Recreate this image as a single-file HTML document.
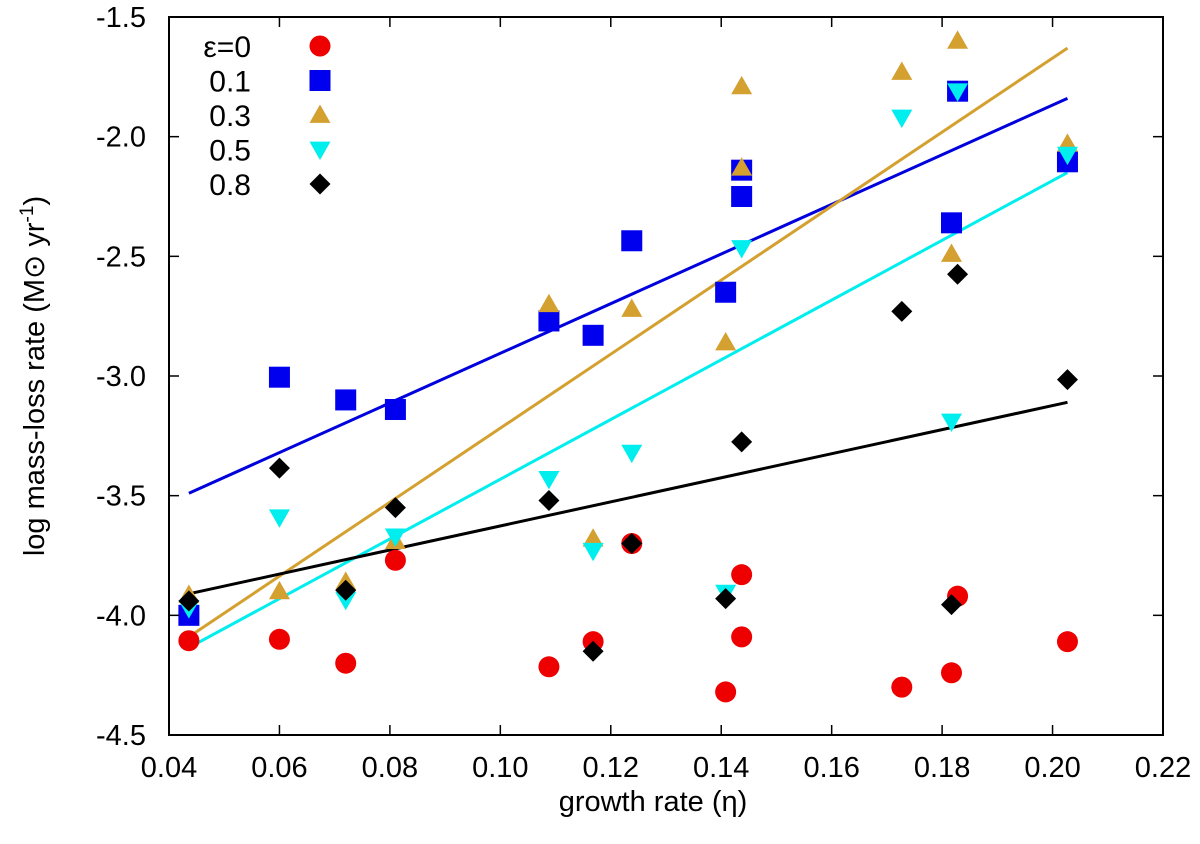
<!DOCTYPE html>
<html><head><meta charset="utf-8"><style>
body{margin:0;background:#fff;}
svg{display:block;font-family:"Liberation Sans",sans-serif;}
</style></head><body>
<svg id="chart" width="1200" height="844" xmlns="http://www.w3.org/2000/svg"></svg>
<script>
const etaValues=[0.0436,0.060,0.072,0.081,0.1088,0.1168,0.1238,0.1408,0.1437,0.1437,0.1727,0.1817,0.1828,0.2027];
const eps0X=[0.0436,0.060,0.072,0.081,0.1088,0.1168,0.1238,0.1437,0.1437,0.1408,0.1727,0.1817,0.1828,0.2027];
const eps0Y=[-4.106,-4.10,-4.20,-3.77,-4.215,-4.11,-3.70,-3.83,-4.09,-4.32,-4.30,-4.24,-3.92,-4.11];
const eps01X=[0.0436,0.060,0.072,0.081,0.1088,0.1168,0.1238,0.1408,0.1437,0.1437,0.1817,0.1828,0.2027];
const eps01Y=[-4.00,-3.005,-3.10,-3.14,-2.77,-2.83,-2.435,-2.65,-2.14,-2.25,-2.36,-1.81,-2.105];
const eps03X=[0.0436,0.060,0.072,0.081,0.1088,0.1168,0.1238,0.1408,0.1437,0.1437,0.1727,0.1817,0.1828,0.2027];
const eps03Y=[-3.915,-3.90,-3.86,-3.69,-2.70,-3.68,-2.72,-2.86,-2.13,-1.79,-1.73,-2.49,-1.60,-2.03];
const eps05X=[0.0436,0.060,0.072,0.081,0.1088,0.1168,0.1238,0.1408,0.1437,0.1727,0.1817,0.1828,0.2027];
const eps05Y=[-3.97,-3.59,-3.935,-3.67,-3.43,-3.73,-3.32,-3.905,-2.465,-1.92,-3.19,-1.81,-2.075];
const eps08X=[0.0436,0.060,0.072,0.081,0.1088,0.1168,0.1238,0.1408,0.1437,0.1727,0.1817,0.1828,0.2027];
const eps08Y=[-3.94,-3.385,-3.895,-3.55,-3.52,-4.15,-3.70,-3.93,-3.275,-2.73,-3.955,-2.575,-3.015];
const fitX=[0.0436,0.2027];
const fit01Y=[-3.49,-1.84];
const fit03Y=[-4.09,-1.63];
const fit05Y=[-4.135,-2.15];
const fit08Y=[-3.91,-3.11];
const xTicks=[0.04,0.06,0.08,0.10,0.12,0.14,0.16,0.18,0.20,0.22];
const xTickLabels=["0.04","0.06","0.08","0.10","0.12","0.14","0.16","0.18","0.20","0.22"];
const yTicks=[-1.5,-2.0,-2.5,-3.0,-3.5,-4.0,-4.5];
const yTickLabels=["-1.5","-2.0","-2.5","-3.0","-3.5","-4.0","-4.5"];
const legendLabels=["ε=0","0.1","0.3","0.5","0.8"];

const L=169,R=1163,T=17,B=735;
const sx=v=>L+(v-0.04)/(0.22-0.04)*(R-L);
const sy=v=>T+(-1.5-v)/3*(B-T);
const svg=document.getElementById('chart');
const NS='http://www.w3.org/2000/svg';
function mk(tag,attrs,parent){const e=document.createElementNS(NS,tag);for(const k in attrs)e.setAttribute(k,attrs[k]);(parent||svg).appendChild(e);return e;}

const fitsG=mk('g',{});


const markG=mk('g',{});



function marker(type,x,y,parent){
  let e,s=10.5;
  if(type==='circle')e=mk('circle',{cx:x,cy:y,r:s,fill:'#ee0000'},parent);
  else if(type==='square')e=mk('rect',{x:x-s,y:y-s,width:2*s,height:2*s,fill:'#0000ee'},parent);
  else if(type==='up')e=mk('polygon',{points:`${x},${y-s} ${x+s},${y+s*0.75} ${x-s},${y+s*0.75}`,fill:'#d4a030'},parent);
  else if(type==='down')e=mk('polygon',{points:`${x},${y+s} ${x+s},${y-s*0.75} ${x-s},${y-s*0.75}`,fill:'#00eeee'},parent);
  else e=mk('polygon',{points:`${x},${y-s} ${x+s},${y} ${x},${y+s} ${x-s},${y}`,fill:'#000'},parent);
  return e;
}
const series=[
 {name:'eps-0',type:'circle',xs:eps0X,ys:eps0Y},
 {name:'eps-0.1',type:'square',xs:eps01X,ys:eps01Y},
 {name:'eps-0.3',type:'up',xs:eps03X,ys:eps03Y},
 {name:'eps-0.5',type:'down',xs:eps05X,ys:eps05Y},
 {name:'eps-0.8',type:'diamond',xs:eps08X,ys:eps08Y}];
series.forEach(s=>{
  s.xs.forEach((xv,i)=>{
    const e=marker(s.type,sx(xv),sy(s.ys[i]),markG);
    
    
  });
});
const fits=[['fit-line-0.1',fit01Y,'#0000dd'],['fit-line-0.3',fit03Y,'#d4a030'],['fit-line-0.5',fit05Y,'#00eeee'],['fit-line-0.8',fit08Y,'#000']];
fits.forEach(f=>{
  const ln=mk('line',{x1:sx(fitX[0]),y1:sy(f[1][0]),x2:sx(fitX[1]),y2:sy(f[1][1]),stroke:f[2],'stroke-width':3},fitsG);
  
  
});
const fr=mk('rect',{x:L,y:T,width:R-L,height:B-T,fill:'none',stroke:'#000','stroke-width':2});


xTicks.forEach((v,i)=>{
  const x=sx(v);
  mk('line',{x1:x,y1:B,x2:x,y2:B-10,stroke:'#000','stroke-width':1.5});
  mk('line',{x1:x,y1:T,x2:x,y2:T+10,stroke:'#000','stroke-width':1.5});
  const t=mk('text',{x:x,y:B+42,'text-anchor':'middle','font-size':29});
  t.textContent=xTickLabels[i];
  
  
});
yTicks.forEach((v,i)=>{
  const y=sy(v);
  mk('line',{x1:L,y1:y,x2:L+10,y2:y,stroke:'#000','stroke-width':1.5});
  mk('line',{x1:R,y1:y,x2:R-10,y2:y,stroke:'#000','stroke-width':1.5});
  const t=mk('text',{x:L-23,y:y+10,'text-anchor':'end','font-size':29});
  t.textContent=yTickLabels[i];
  
  
});
const xt=mk('text',{x:(L+R)/2-13,y:811,'text-anchor':'middle','font-size':29});
xt.textContent='growth rate (η)';


const yt=mk('text',{x:0,y:0,'text-anchor':'middle','font-size':29,transform:`translate(44,${(T+B)/2}) rotate(-90)`});
yt.innerHTML='log mass-loss rate (M<tspan>⊙</tspan> yr<tspan dy="-11" font-size="19">-1</tspan><tspan dy="11">)</tspan>';


const lg=mk('g',{});


const types=['circle','square','up','down','diamond'];
legendLabels.forEach((lab,i)=>{
  const y=46+i*34.5;
  const t=mk('text',{x:251,y:y+11,'text-anchor':'end','font-size':30},lg);
  t.textContent=lab;
  
  
  const m=marker(types[i],320,y,lg);
  
  
});
</script>
</body></html>
